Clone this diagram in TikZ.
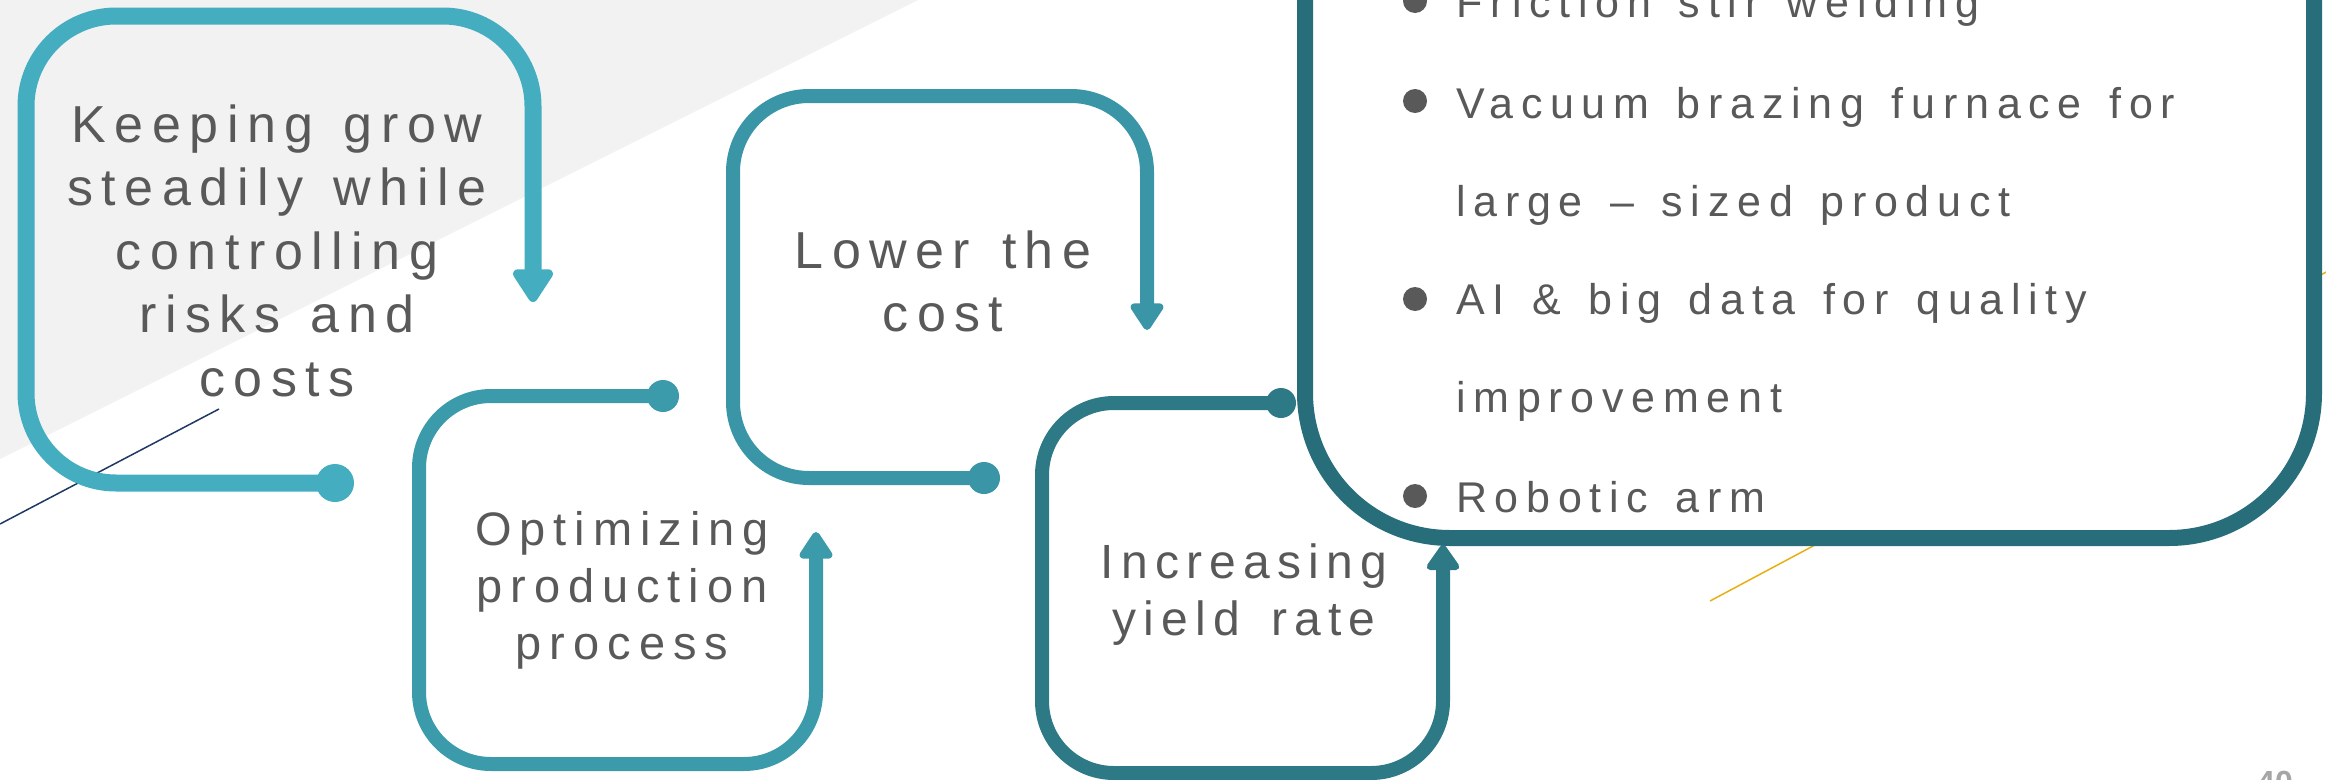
\documentclass[tikz,border=0pt]{standalone}
\usepackage{fontspec}
\setmainfont{Liberation Sans}
\newfontfamily\fkeep[LetterSpace=16.5]{Liberation Sans}
\newfontfamily\fopt[LetterSpace=17]{Liberation Sans}
\newfontfamily\flow[LetterSpace=16]{Liberation Sans}
\newfontfamily\finc[LetterSpace=15]{Liberation Sans}
\newfontfamily\fbul[LetterSpace=18,WordSpace=1.4]{Liberation Sans}
\newcommand\wsp[1]{\spaceskip=#1\relax}
\usetikzlibrary{arrows.meta}
\definecolor{cKeep}{HTML}{44AEC0}
\definecolor{cOpt}{HTML}{3B9BAB}
\definecolor{cLow}{HTML}{3A96A7}
\definecolor{cInc}{HTML}{2D7A86}
\definecolor{cBig}{HTML}{276E7A}
\definecolor{txtgray}{HTML}{595959}
\definecolor{bggray}{HTML}{F2F2F2}
\definecolor{navy}{HTML}{1F3864}
\definecolor{gold}{HTML}{E6B012}
\definecolor{pggray}{HTML}{A6A6A6}
\tikzset{
  dotnode/.style={circle, inner sep=0pt, minimum size=#1},
  looppath/.style={line width=14pt, rounded corners=72pt},
  bullettxt/.style={anchor=base west, inner sep=0pt, text=txtgray, font=\fbul\fontsize{43}{43}\selectfont},
  bulletdot/.style={circle, inner sep=0pt, minimum size=24pt, fill=txtgray},
  blocktxt/.style={anchor=base, inner sep=0pt, text=txtgray, align=center}
}
\begin{document}
\begin{tikzpicture}[x=1pt,y=-1pt]
\useasboundingbox (0,0) rectangle (2326,779);
% background
\fill[bggray] (0,0) -- (918,0) -- (0,459) -- cycle;
\draw[navy, line width=1.5pt] (0,524) -- (219,409);
\draw[gold, line width=1.5pt] (1710,601) -- (2330,270);

% Keeping box
\node[dotnode=38pt, fill=cKeep] (dKeep) at (335,483) {};
\coordinate (eKeep) at (533,302);
\draw[cKeep, line width=17pt, rounded corners=90pt, -{Triangle[width=45pt,length=37pt,round]}]
  (dKeep.center) -- (26,483) -- (26,16) -- (533,16) -- (eKeep);
\node[blocktxt, text width=480pt, font=\fkeep\fontsize{52}{63.5}\selectfont] (tKeep) at (277,142)
  {\wsp{.58em}Keeping grow\\steadily while\\controlling\\risks and\\costs};

% Optimizing box
\node[dotnode=32pt, fill=cOpt] (dOpt) at (663,396) {};
\coordinate (eOpt) at (816,532);
\draw[cOpt, looppath, -{Triangle[width=37pt,length=30pt,round]}]
  (dOpt.center) -- (419,396) -- (419,764) -- (816,764) -- (eOpt);
\node[blocktxt, text width=380pt, font=\fopt\fontsize{47}{57}\selectfont] (tOpt) at (622,545)
  {Optimizing\\production\\process};

% Lower box
\node[dotnode=32pt, fill=cLow] (dLow) at (984,478) {};
\coordinate (eLow) at (1147,330);
\draw[cLow, looppath, rounded corners=76pt, -{Triangle[width=37pt,length=30pt,round]}]
  (dLow.center) -- (733,478) -- (733,96) -- (1147,96) -- (eLow);
\node[blocktxt, text width=380pt, font=\flow\fontsize{52}{63}\selectfont] (tLow) at (943,268)
  {\wsp{.62em}Lower the\\cost};

% Big box
\draw[cBig, line width=16pt, fill=white, rounded corners=145pt] (1305,-300) rectangle (2314,538);
\node[bulletdot] (b1) at (1415,1) {};
\node[bulletdot] (b2) at (1415,101) {};
\node[bulletdot] (b3) at (1415,299) {};
\node[bulletdot] (b4) at (1415,496) {};
\node[bullettxt] (l1) at (1456,17) {Friction stir welding};
\node[bullettxt] (l2) at (1456,118) {Vacuum brazing furnace for};
\node[bullettxt] (l3) at (1456,216) {large – sized product};
\node[bullettxt] (l4) at (1456,314) {AI \& big data for quality};
\node[bullettxt] (l5) at (1456,412) {improvement};
\node[bullettxt] (l6) at (1456,512) {Robotic arm};

% Increasing box
\node[dotnode=30pt, fill=cInc] (dInc) at (1281,403) {};
\coordinate (eInc) at (1443,545);
\draw[cInc, looppath, -{Triangle[width=37pt,length=28pt,round]}]
  (dInc.center) -- (1042,403) -- (1042,773) -- (1443,773) -- (eInc);
\node[blocktxt, text width=380pt, font=\finc\fontsize{48}{57}\selectfont] (tInc) at (1244,578)
  {\wsp{.65em}Increasing\\yield rate};

% page number
\node[anchor=north, inner sep=0pt, text=pggray, font=\bfseries\fontsize{32}{32}\selectfont] (pg) at (2275,771) {40};
\end{tikzpicture}
\end{document}
